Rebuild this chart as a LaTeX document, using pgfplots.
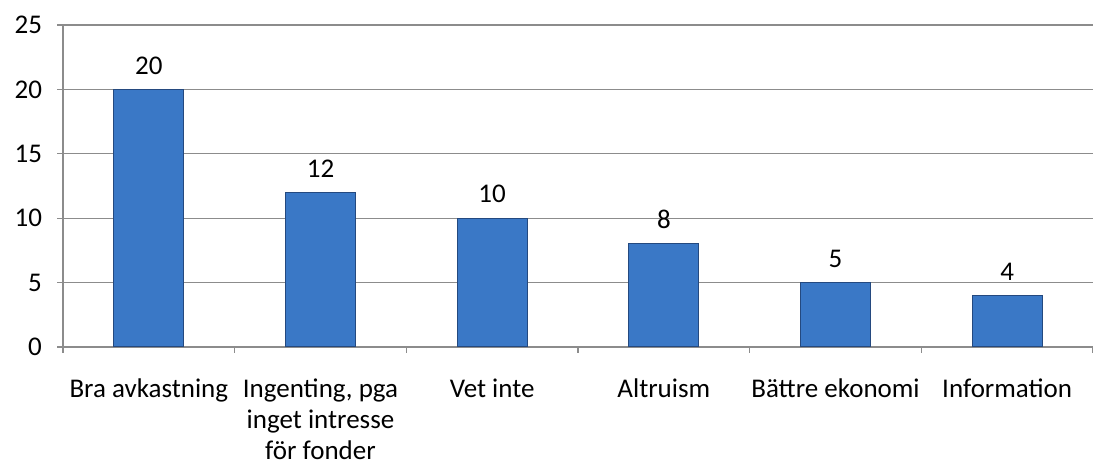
\documentclass[border=0pt]{standalone}
\usepackage{pgfplots}
\pgfplotsset{compat=1.18}
\usepackage{fontspec}
\setmainfont{Carlito}
\definecolor{gridgray}{HTML}{8C8C8C}
\definecolor{barfill}{HTML}{3A78C6}
\definecolor{baredge}{HTML}{24497F}
\begin{document}
\begin{tikzpicture}
\begin{axis}[
  scale only axis,
  width=515pt, height=161pt,
  xmin=-0.5, xmax=5.5,
  ymin=0, ymax=25,
  ytick={0,5,...,25},
  xtick={0,...,5},
  xticklabels={Bra avkastning,{Ingenting, pga\\inget intresse\\för fonder},Vet inte,Altruism,Bättre ekonomi,Information},
  minor xtick={-0.5,0.5,...,5.5},
  major x tick style={draw=none},
  minor x tick style={draw=gridgray, line width=0.6pt},
  y tick style={draw=gridgray, line width=0.6pt},
  tick align=outside,
  major tick length=3pt,
  minor tick length=3pt,
  ymajorgrids,
  grid style={gridgray, line width=0.6pt},
  axis x line*=bottom,
  axis y line*=left,
  axis line style={gridgray, line width=0.6pt, -},
  xticklabel style={align=center, font=\fontsize{13.5}{15.5}\selectfont, yshift=-9.5pt},
  yticklabel style={font=\fontsize{13.5}{15}\selectfont, xshift=-4pt},
  /pgf/number format/assume math mode=true,
  ybar, bar width=35pt,
  nodes near coords,
  every node near coord/.append style={font=\fontsize{13.5}{15}\selectfont, yshift=4pt},
  clip=false,
]
\addplot[draw=baredge, line width=0.5pt, fill=barfill]
  coordinates {(0,20) (1,12) (2,10) (3,8) (4,5) (5,4)};
\end{axis}
\pgfresetboundingbox
\path ([xshift=-31.5pt, yshift=-58.5pt]current axis.south west) rectangle ([yshift=12.5pt]current axis.north east);
\end{tikzpicture}
\end{document}
